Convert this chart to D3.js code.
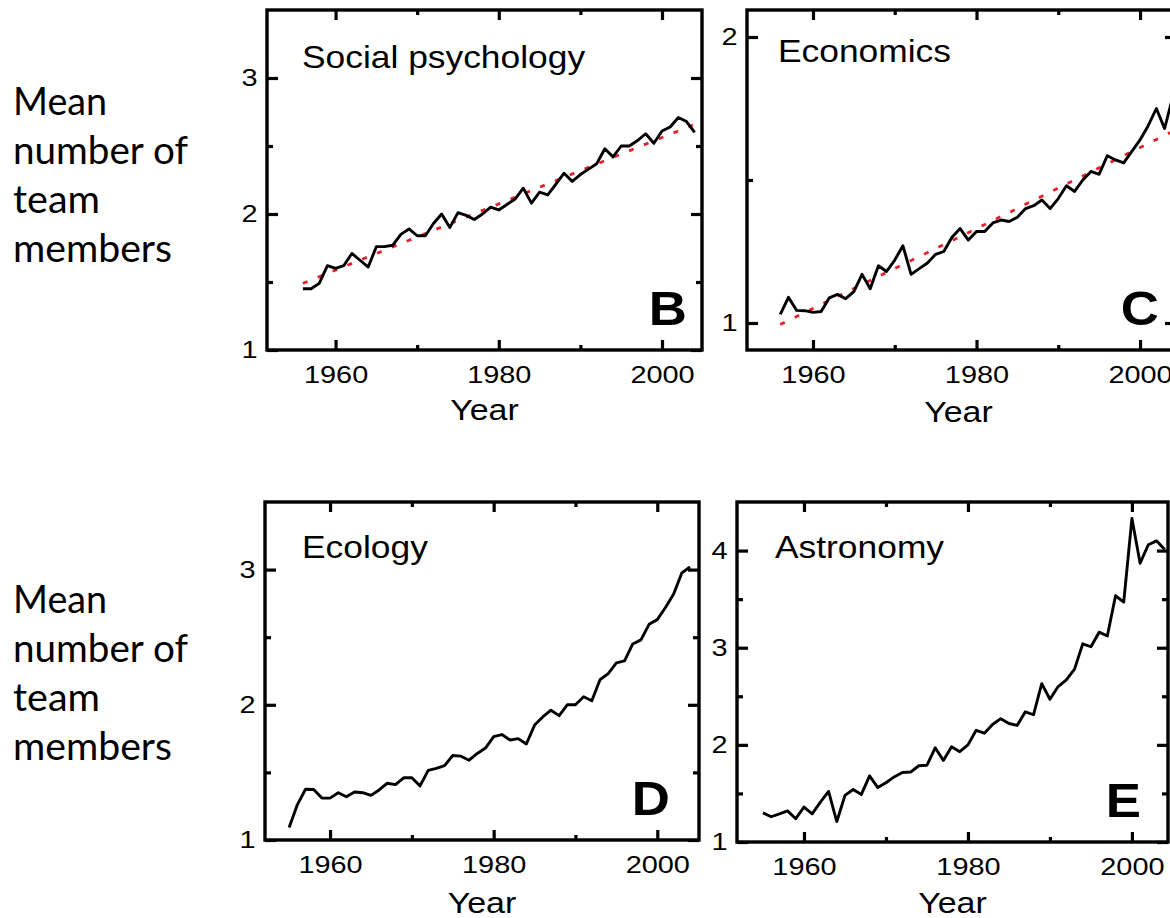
<!DOCTYPE html>
<html>
<head>
<meta charset="utf-8">
<script src="https://cdn.jsdelivr.net/npm/d3@7/dist/d3.min.js"></script>
<style>
  html, body { margin: 0; padding: 0; background: #fff; }
  svg { display: block; }
</style>
</head>
<body>
<svg id="chart" width="1170" height="918"></svg>
<script>
// ---------------- DATA ----------------
const yLabelLines = ["Mean", "number of", "team", "members"];
const xTickMajor = [1960, 1980, 2000];
const xTickMinor = [1970, 1990];
const xLabel = "Year";

const yearsB = d3.range(1956, 2005);
const valuesB = [1.45, 1.45, 1.49, 1.62, 1.60, 1.62, 1.71, 1.66, 1.61, 1.76,
                 1.76, 1.77, 1.85, 1.89, 1.84, 1.84, 1.93, 2.00, 1.90, 2.01,
                 1.99, 1.96, 2.00, 2.05, 2.03, 2.07, 2.11, 2.19, 2.08, 2.16,
                 2.14, 2.22, 2.30, 2.24, 2.29, 2.33, 2.37, 2.48, 2.42, 2.50,
                 2.50, 2.54, 2.59, 2.52, 2.61, 2.64, 2.71, 2.68, 2.60];
const fitB = [[1956, 1.49], [2004, 2.66]];

const yearsC = d3.range(1956, 2005);
const valuesC = [1.03, 1.09, 1.044, 1.043, 1.037, 1.04, 1.088, 1.10, 1.085, 1.11,
                 1.17, 1.12, 1.20, 1.18, 1.22, 1.27, 1.17, 1.19, 1.21, 1.24,
                 1.25, 1.30, 1.33, 1.29, 1.32, 1.32, 1.35, 1.36, 1.355, 1.37,
                 1.40, 1.41, 1.43, 1.40, 1.435, 1.48, 1.46, 1.50, 1.53, 1.52,
                 1.585, 1.57, 1.56, 1.60, 1.64, 1.69, 1.75, 1.68, 1.79];
const fitC = [[1956, 0.995], [1980, 1.33], [2004, 1.67]];

const yearsD = d3.range(1955, 2005);
const valuesD = [1.093, 1.26, 1.375, 1.373, 1.31, 1.31, 1.35, 1.32, 1.355, 1.35,
                 1.33, 1.37, 1.42, 1.41, 1.46, 1.46, 1.40, 1.515, 1.53, 1.55,
                 1.625, 1.62, 1.59, 1.64, 1.68, 1.765, 1.78, 1.74, 1.75, 1.71,
                 1.85, 1.91, 1.96, 1.92, 2.00, 2.00, 2.06, 2.03, 2.185, 2.23,
                 2.31, 2.325, 2.45, 2.48, 2.595, 2.63, 2.72, 2.82, 2.975, 3.02];

const yearsE = d3.range(1955, 2005);
const valuesE = [1.30, 1.26, 1.29, 1.32, 1.24, 1.36, 1.29, 1.41, 1.52, 1.21,
                 1.48, 1.54, 1.49, 1.68, 1.56, 1.61, 1.67, 1.715, 1.72, 1.785,
                 1.79, 1.97, 1.84, 1.98, 1.93, 2.00, 2.15, 2.12, 2.21, 2.27,
                 2.22, 2.20, 2.34, 2.31, 2.63, 2.47, 2.60, 2.67, 2.78, 3.04,
                 3.01, 3.16, 3.12, 3.535, 3.47, 4.33, 3.87, 4.06, 4.10, 4.01];

// ---------------- LAYOUT ----------------
const panels = [
  { title: "Social psychology", letter: "B", years: yearsB, values: valuesB, fit: fitB,
    left: 267, right: 702, top: 10, bottom: 350,
    xDomain: [1951.6, 2004.9], yDomain: [1, 3.5],
    yMajor: [1, 2, 3], yMinor: [1.5, 2.5],
    titleX: 302, titleY: 68, letterRight: 687, letterY: 325, xLabelY: 420 },
  { title: "Economics", letter: "C", years: yearsC, values: valuesC, fit: fitC,
    left: 747, right: 1176, top: 10, bottom: 350,
    xDomain: [1951.93, 2004.4], yDomain: [0.9056, 2.0944],
    yMajor: [1, 2], yMinor: [1.5],
    titleX: 778, titleY: 62, letterRight: 1159, letterY: 325, xLabelY: 422 },
  { title: "Ecology", letter: "D", years: yearsD, values: valuesD, fit: null,
    left: 265, right: 699, top: 502, bottom: 840,
    xDomain: [1952.05, 2005.1], yDomain: [1, 3.5],
    yMajor: [1, 2, 3], yMinor: [1.5, 2.5],
    titleX: 302, titleY: 558, letterRight: 670, letterY: 815, xLabelY: 913 },
  { title: "Astronomy", letter: "E", years: yearsE, values: valuesE, fit: null,
    left: 737, right: 1168, top: 502, bottom: 842,
    xDomain: [1951.83, 2004.4], yDomain: [1, 4.5],
    yMajor: [1, 2, 3, 4], yMinor: [1.5, 2.5, 3.5],
    titleX: 775, titleY: 558, letterRight: 1141, letterY: 817, xLabelY: 913 }
];

const FONT = "'Liberation Sans', Arial, Helvetica, sans-serif";
const SX = 1.18; // horizontal stretch of the original figure's text

const svg = d3.select("#chart");

// ---------------- LEFT LABELS ----------------
const leftLabelGroups = [{ baseline: 115 }, { baseline: 613 }];
const leftLineLengths = [94, 175, 87, 159];
leftLabelGroups.forEach(g => {
  const t = svg.append("text")
    .attr("font-family", "Lato, 'Open Sans', sans-serif")
    .attr("font-size", 38)
    .attr("fill", "#000");
  yLabelLines.forEach((line, i) => {
    t.append("tspan")
      .attr("x", 13)
      .attr("y", g.baseline + i * 49)
      .attr("textLength", leftLineLengths[i])
      .attr("lengthAdjust", "spacingAndGlyphs")
      .text(line);
  });
});

// ---------------- PANELS ----------------
panels.forEach((p, pi) => {
  const x = d3.scaleLinear().domain(p.xDomain).range([p.left, p.right]);
  const y = d3.scaleLinear().domain(p.yDomain).range([p.bottom, p.top]);
  const g = svg.append("g");

  const clipId = "clip" + pi;
  svg.append("clipPath").attr("id", clipId)
    .append("rect")
    .attr("x", p.left).attr("y", p.top)
    .attr("width", p.right - p.left).attr("height", p.bottom - p.top);

  function styleAxis(sel, showLabels) {
    sel.select(".domain").remove();
    sel.selectAll(".tick line").attr("stroke", "#000").attr("stroke-width", 3.2);
    if (!showLabels) sel.selectAll(".tick text").remove();
    else sel.selectAll(".tick text")
      .attr("font-family", FONT)
      .attr("font-size", 24.5)
      .attr("fill", "#000")
      .attr("transform", `scale(${SX},1)`);
  }

  // bottom
  g.append("g").attr("transform", `translate(0,${p.bottom})`)
    .call(d3.axisBottom(x).tickValues(xTickMajor).tickSizeInner(-10).tickSizeOuter(0).tickPadding(16).tickFormat(d3.format("d")))
    .call(s => styleAxis(s, true));
  g.append("g").attr("transform", `translate(0,${p.bottom})`)
    .call(d3.axisBottom(x).tickValues(xTickMinor).tickSizeInner(-5).tickSizeOuter(0))
    .call(s => styleAxis(s, false));
  // top
  g.append("g").attr("transform", `translate(0,${p.top})`)
    .call(d3.axisTop(x).tickValues(xTickMajor).tickSizeInner(-10).tickSizeOuter(0))
    .call(s => styleAxis(s, false));
  g.append("g").attr("transform", `translate(0,${p.top})`)
    .call(d3.axisTop(x).tickValues(xTickMinor).tickSizeInner(-5).tickSizeOuter(0))
    .call(s => styleAxis(s, false));
  // left
  g.append("g").attr("transform", `translate(${p.left},0)`)
    .call(d3.axisLeft(y).tickValues(p.yMajor).tickSizeInner(-11).tickSizeOuter(0).tickPadding(8).tickFormat(d3.format("d")))
    .call(s => styleAxis(s, true));
  g.append("g").attr("transform", `translate(${p.left},0)`)
    .call(d3.axisLeft(y).tickValues(p.yMinor).tickSizeInner(-6).tickSizeOuter(0))
    .call(s => styleAxis(s, false));
  // right
  g.append("g").attr("transform", `translate(${p.right},0)`)
    .call(d3.axisRight(y).tickValues(p.yMajor).tickSizeInner(-11).tickSizeOuter(0))
    .call(s => styleAxis(s, false));
  g.append("g").attr("transform", `translate(${p.right},0)`)
    .call(d3.axisRight(y).tickValues(p.yMinor).tickSizeInner(-6).tickSizeOuter(0))
    .call(s => styleAxis(s, false));

  // frame
  g.append("rect")
    .attr("x", p.left).attr("y", p.top)
    .attr("width", p.right - p.left).attr("height", p.bottom - p.top)
    .attr("fill", "none").attr("stroke", "#000").attr("stroke-width", 3.4);

  // fit line
  if (p.fit) {
    g.append("path")
      .datum(p.fit)
      .attr("clip-path", `url(#${clipId})`)
      .attr("fill", "none")
      .attr("stroke", "#e8202b")
      .attr("stroke-width", 2.8)
      .attr("stroke-dasharray", "5,11")
      .attr("d", d3.line().x(d => x(d[0])).y(d => y(d[1])));
  }

  // data line
  const pts = p.years.map((yr, i) => [yr, p.values[i]]);
  g.append("path")
    .datum(pts)
    .attr("clip-path", `url(#${clipId})`)
    .attr("fill", "none")
    .attr("stroke", "#000")
    .attr("stroke-width", 2.9)
    .attr("stroke-linejoin", "round")
    .attr("d", d3.line().x(d => x(d[0])).y(d => y(d[1])));

  // title
  g.append("text")
    .attr("transform", `translate(${p.titleX},${p.titleY}) scale(1.16,1)`)
    .attr("font-family", FONT).attr("font-size", 30.5).attr("fill", "#000")
    .text(p.title);

  // panel letter
  g.append("text")
    .attr("transform", `translate(${p.letterRight},${p.letterY}) scale(1.1,1)`)
    .attr("text-anchor", "end")
    .attr("font-family", FONT).attr("font-weight", "bold").attr("font-size", 48).attr("fill", "#000")
    .text(p.letter);

  // x label
  g.append("text")
    .attr("transform", `translate(${(p.left + p.right) / 2 + (pi === 1 ? -3 : 0)},${p.xLabelY}) scale(1.17,1)`)
    .attr("text-anchor", "middle")
    .attr("font-family", FONT).attr("font-size", 29).attr("fill", "#000")
    .text(xLabel);
});
</script>
</body>
</html>
